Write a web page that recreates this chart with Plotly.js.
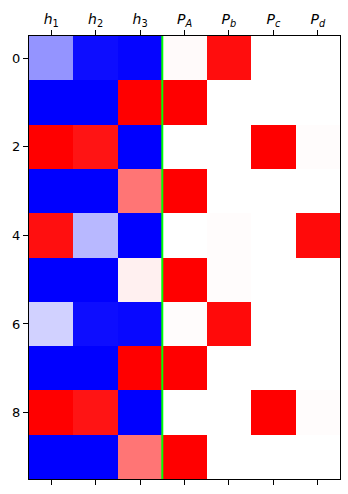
<!DOCTYPE html>
<html><head><meta charset="utf-8">
<script src="https://cdn.plot.ly/plotly-3.0.1.min.js"></script>
<style>body{margin:0;background:#fff}#chart{width:348px;height:494px}</style>
</head><body><div id="chart"></div>
<script>
const tickLabels = ['<i>h</i><sub>1</sub>','<i>h</i><sub>2</sub>','<i>h</i><sub>3</sub>','<i>P</i><sub><i>A</i></sub>','<i>P</i><sub><i>b</i></sub>','<i>P</i><sub><i>c</i></sub>','<i>P</i><sub><i>d</i></sub>'];
const rowIndex = [0,1,2,3,4,5,6,7,8,9];
const h1 = [-0.42, -1, 1, -1, 0.94, -1, -0.18, -1, 1, -1];
const h2 = [-0.95, -1, 0.92, -1, -0.28, -1, -0.95, -1, 0.92, -1];
const h3 = [-0.98, 1, -1, 0.54, -1, 0.06, -0.97, 1, -1, 0.54];
const PA = [0.02, 1, 0, 1, 0, 1, 0.01, 1, 0, 1];
const Pb = [0.95, 0, 0, 0, 0.01, 0.01, 0.96, 0, 0, 0];
const Pc = [0, 0, 1, 0, 0, 0, 0, 0, 1, 0];
const Pd = [0, 0, 0.01, 0, 0.96, 0, 0, 0, 0.01, 0];
const columns = [h1, h2, h3, PA, Pb, Pc, Pd];
const z = rowIndex.map(i => columns.map(c => c[i]));
const xs = columns.map((c, j) => j);

const trace = {
  type: 'heatmap', z: z, x: xs, y: rowIndex,
  zmin: -1, zmax: 1, showscale: false,
  colorscale: [[0,'rgb(0,0,255)'],[0.5,'rgb(255,255,255)'],[1,'rgb(255,0,0)']],
  hoverinfo: 'skip'
};
const layout = {
  width: 348, height: 494,
  margin: {l: 29, r: 8, t: 36, b: 15},
  paper_bgcolor: '#fff', plot_bgcolor: '#fff',
  font: {family: 'DejaVu Sans', size: 13, color: '#000'},
  xaxis: {side: 'top', range: [-0.5, 6.5], tickvals: xs, ticktext: tickLabels,
    ticks: 'outside', ticklen: 5, tickwidth: 1, tickcolor: '#000',
    showline: true, linecolor: '#000', linewidth: 1, mirror: 'ticks',
    showgrid: false, zeroline: false, tickfont: {size: 14}},
  yaxis: {range: [9.5, -0.5], tickvals: [0,2,4,6,8],
    ticks: 'outside', ticklen: 5, tickwidth: 1, tickcolor: '#000',
    showline: true, linecolor: '#000', linewidth: 1, mirror: true,
    showgrid: false, zeroline: false, tickfont: {size: 13}},
  shapes: [{type: 'line', xref: 'x', yref: 'paper', x0: 2.5, x1: 2.5, y0: 0, y1: 1,
    line: {color: '#00ff00', width: 2}}]
};
Plotly.newPlot('chart', [trace], layout, {displayModeBar: false, staticPlot: true});
</script></body></html>
